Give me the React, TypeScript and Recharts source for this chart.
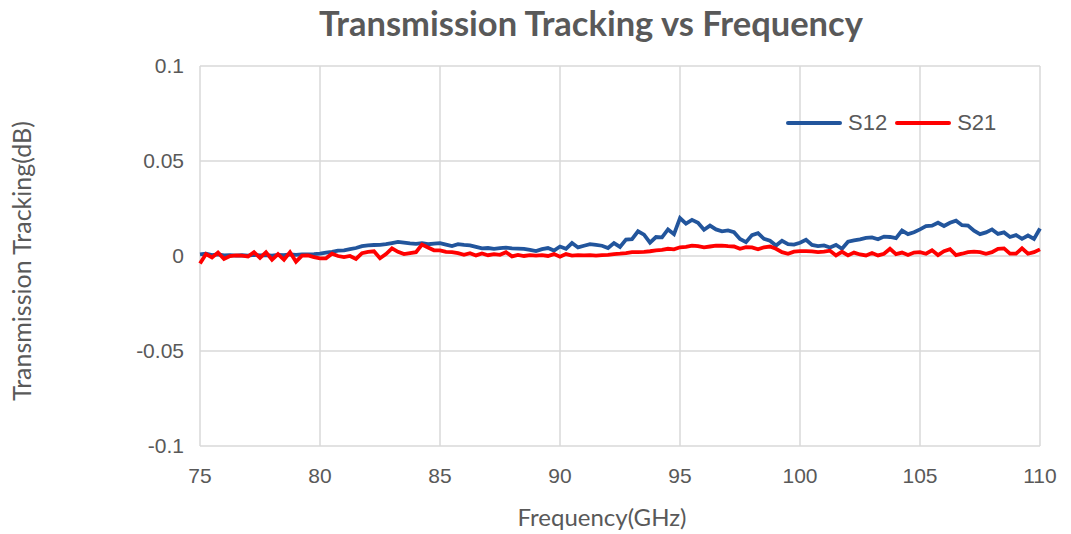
import { LineChart, Line, XAxis, YAxis, CartesianGrid } from 'recharts'

// frequency points (GHz)
const freq = [
	75, 75.25, 75.5, 75.75, 76, 76.25, 76.5, 76.75, 77, 77.25, 77.5, 77.75,
	78, 78.25, 78.5, 78.75, 79, 79.25, 79.5, 79.75, 80, 80.25, 80.5, 80.75,
	81, 81.25, 81.5, 81.75, 82, 82.25, 82.5, 82.75, 83, 83.25, 83.5, 83.75,
	84, 84.25, 84.5, 84.75, 85, 85.25, 85.5, 85.75, 86, 86.25, 86.5, 86.75,
	87, 87.25, 87.5, 87.75, 88, 88.25, 88.5, 88.75, 89, 89.25, 89.5, 89.75,
	90, 90.25, 90.5, 90.75, 91, 91.25, 91.5, 91.75, 92, 92.25, 92.5, 92.75,
	93, 93.25, 93.5, 93.75, 94, 94.25, 94.5, 94.75, 95, 95.25, 95.5, 95.75,
	96, 96.25, 96.5, 96.75, 97, 97.25, 97.5, 97.75, 98, 98.25, 98.5, 98.75,
	99, 99.25, 99.5, 99.75, 100, 100.25, 100.5, 100.75, 101, 101.25, 101.5, 101.75,
	102, 102.25, 102.5, 102.75, 103, 103.25, 103.5, 103.75, 104, 104.25, 104.5, 104.75,
	105, 105.25, 105.5, 105.75, 106, 106.25, 106.5, 106.75, 107, 107.25, 107.5, 107.75,
	108, 108.25, 108.5, 108.75, 109, 109.25, 109.5, 109.75, 110
]

const s12 = [
	0.0008, 0.0012, 0.0005, 0.0008, 0.0003, 0.0005, 0.0002, 0.0004, 0.0002, 0.0006, 0.0003, 0.0005,
	0.0002, 0.0006, 0.0004, 0.0008, 0.0006, 0.0009, 0.0008, 0.001, 0.0013, 0.0018, 0.0022, 0.0028,
	0.003, 0.0036, 0.0042, 0.0052, 0.0056, 0.0058, 0.0059, 0.0062, 0.0068, 0.0074, 0.007, 0.0066,
	0.0064, 0.0068, 0.0062, 0.0065, 0.0068, 0.006, 0.0052, 0.0062, 0.0058, 0.0056, 0.0048, 0.004,
	0.0042, 0.0038, 0.0041, 0.0044, 0.004, 0.0039, 0.0037, 0.0032, 0.0026, 0.0036, 0.0042, 0.0029,
	0.005, 0.0038, 0.0068, 0.0045, 0.0054, 0.0062, 0.0058, 0.0054, 0.0042, 0.0068, 0.0048, 0.0086,
	0.0089, 0.013, 0.0112, 0.007, 0.01, 0.0098, 0.014, 0.0115, 0.02, 0.017, 0.019, 0.0175,
	0.0138, 0.016, 0.014, 0.013, 0.0135, 0.0125, 0.009, 0.0073, 0.011, 0.012, 0.009, 0.008,
	0.0055, 0.008, 0.0062, 0.006, 0.007, 0.0085, 0.0058, 0.0052, 0.0056, 0.0045, 0.0058, 0.0038,
	0.0075, 0.0082, 0.0088, 0.0095, 0.0098, 0.0088, 0.0102, 0.01, 0.0094, 0.0134, 0.0115, 0.0125,
	0.014, 0.0157, 0.016, 0.0175, 0.0158, 0.0175, 0.0186, 0.0162, 0.016, 0.0133, 0.0115, 0.0124,
	0.014, 0.0116, 0.0124, 0.01, 0.011, 0.009, 0.0108, 0.009, 0.0145
]

const s21 = [
	-0.004, 0.001, -0.0008, 0.0018, -0.0015, 0.0, 0.0003, 0.0002, -0.0003, 0.002, -0.001, 0.002,
	-0.002, 0.001, -0.002, 0.002, -0.003, 0.0002, 0.0003, -0.0006, -0.0012, -0.0012, 0.0012, 0.0,
	-0.0006, 0.0, -0.0015, 0.0015, 0.0022, 0.0025, -0.0012, 0.001, 0.004, 0.0022, 0.001, 0.0015,
	0.002, 0.006, 0.0045, 0.003, 0.003, 0.0022, 0.002, 0.0015, 0.0006, 0.0015, 0.0003, 0.0013,
	0.0004, 0.001, 0.0006, 0.002, -0.0002, 0.0006, 0.0, 0.0005, 0.0002, 0.0005, 0.0, 0.001,
	-0.0004, 0.001, 0.0002, 0.0005, 0.0003, 0.0005, 0.0002, 0.0005, 0.0006, 0.001, 0.0012, 0.0015,
	0.002, 0.002, 0.0022, 0.0025, 0.003, 0.0032, 0.0038, 0.0035, 0.0046, 0.0048, 0.0055, 0.0052,
	0.0046, 0.005, 0.0054, 0.0055, 0.0052, 0.005, 0.0038, 0.0046, 0.0045, 0.0035, 0.0046, 0.005,
	0.0038, 0.002, 0.0012, 0.0023, 0.0026, 0.0026, 0.0024, 0.002, 0.0023, 0.0028, 0.0003, 0.0022,
	0.0003, 0.0018, 0.0008, 0.0003, 0.0016, 0.0003, 0.0012, 0.0038, 0.001, 0.0018, 0.0005, 0.0018,
	0.002, 0.0012, 0.003, 0.0005, 0.0025, 0.0036, 0.0005, 0.0012, 0.002, 0.0023, 0.002, 0.0012,
	0.002, 0.0038, 0.004, 0.0012, 0.0012, 0.004, 0.0012, 0.002, 0.0035
]

const xTicks = [75, 80, 85, 90, 95, 100, 105, 110]
const yTicks = [-0.1, -0.05, 0, 0.05, 0.1]

const data = freq.map((f, i) => ({ f, s12: s12[i], s21: s21[i] }))

const BLUE = '#22559c'
const RED = '#ff0000'
const TEXT = '#595959'

const LegendBox = () => (
	<div
		style={{
			position: 'absolute',
			left: 786,
			top: 110,
			display: 'flex',
			alignItems: 'center',
			fontFamily: '"Liberation Sans", Arial',
			fontSize: 22,
			color: TEXT
		}}
	>
		<span style={{ display: 'inline-block', width: 56, height: 4, background: BLUE, borderRadius: 2 }} />
		<span style={{ marginLeft: 6, marginRight: 8 }}>S12</span>
		<span style={{ display: 'inline-block', width: 56, height: 4, background: RED, borderRadius: 2 }} />
		<span style={{ marginLeft: 6 }}>S21</span>
	</div>
)

export default function App() {
	return (
		<div style={{ position: 'absolute', left: 0, top: 0, width: 1071, height: 534, background: '#fff' }}>
			<div
				style={{
					position: 'absolute',
					left: 591,
					top: 2,
					transform: 'translateX(-50%)',
					whiteSpace: 'nowrap',
					fontFamily: 'Lato, "Open Sans", sans-serif',
					fontWeight: 700,
					fontSize: 34.5,
					color: TEXT
				}}
			>
				Transmission Tracking vs Frequency
			</div>
			<LineChart width={1071} height={534} data={data} margin={{ top: 66, right: 31, bottom: 0, left: 0 }}>
				<CartesianGrid stroke="#d9d9d9" strokeWidth={1.5} verticalValues={xTicks} horizontalValues={yTicks} />
				<XAxis
					type="number"
					dataKey="f"
					domain={[75, 110]}
					ticks={xTicks}
					tickLine={false}
					axisLine={false}
					tickSize={0}
					tickMargin={22}
					height={88}
					tick={{ fontSize: 21, fill: TEXT, fontFamily: '"Liberation Sans", Arial' }}
					label={{ value: 'Frequency(GHz)', position: 'center', dx: -18, dy: 27, fill: TEXT, fontSize: 24, fontFamily: 'Lato, sans-serif' }}
				/>
				<YAxis
					type="number"
					domain={[-0.1, 0.1]}
					ticks={yTicks}
					tickLine={false}
					axisLine={false}
					tickSize={0}
					tickMargin={16}
					width={200}
					tick={{ fontSize: 21, fill: TEXT, fontFamily: '"Liberation Sans", Arial' }}
					label={{ value: 'Transmission Tracking(dB)', position: 'center', angle: -90, dx: -78, dy: 5, fill: TEXT, fontSize: 25, fontFamily: 'Lato, sans-serif' }}
				/>
				<Line dataKey="s12" name="S12" stroke={BLUE} strokeWidth={3.8} dot={false} isAnimationActive={false} />
				<Line dataKey="s21" name="S21" stroke={RED} strokeWidth={3.8} dot={false} isAnimationActive={false} />
			</LineChart>
			<LegendBox />
		</div>
	)
}
